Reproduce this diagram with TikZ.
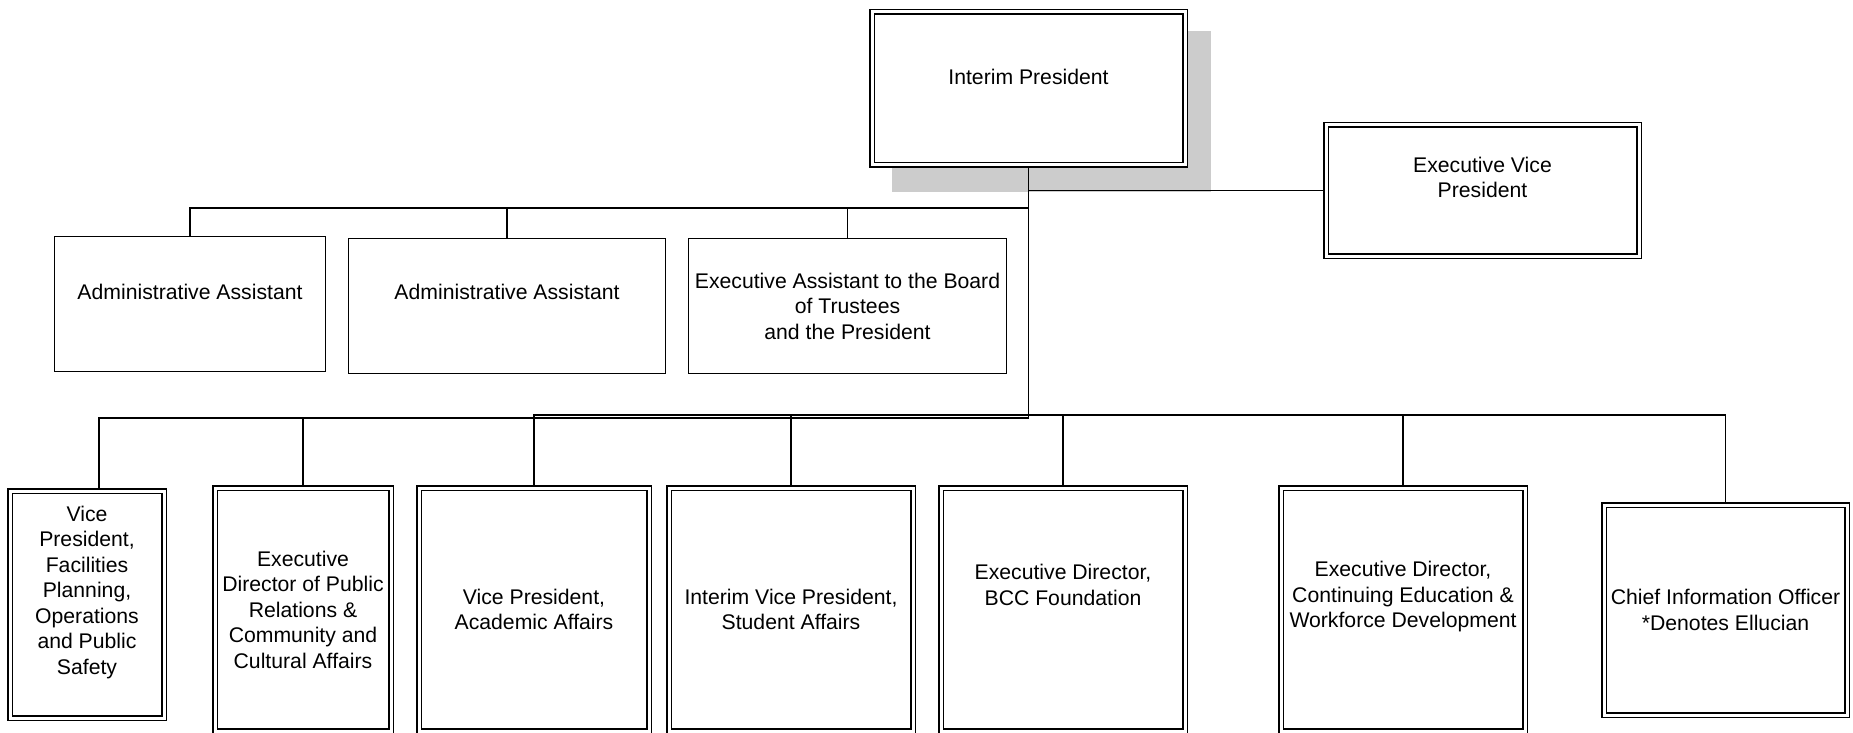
\documentclass[tikz,border=0pt]{standalone}
\usepackage{fontspec}
\setmainfont{Liberation Sans}
\usetikzlibrary{positioning}

\begin{document}
\begin{tikzpicture}[%
        x=0.5pt,
        y=-0.5pt,
        line width=0.65pt,
        office/.style={%
          draw, line width=0.7pt, double, double distance=1.5pt,
          fill=white, inner sep=0pt, outer sep=1.45pt
        },
        aide/.style={%
          draw, line width=0.85pt, fill=white, inner sep=0pt,
          minimum width=158.5pt, minimum height=67.5pt
        },
        dept/.style={%
          office, minimum width=122pt, minimum height=121.5pt
        },
        txt/.style={%
          align=center, inner sep=0pt,
          font=\fontsize{10.6}{12.75}\selectfont
        }
      ]
      \useasboundingbox (0,0) rectangle (1853,733);
      % shadow of the top box
      \fill[black!20] (892,31) rectangle (1211,192);

      \node[office, minimum width=156.5pt, minimum height=76.5pt] (pres) at (1028.5,88.5) {};
      \node[office, minimum width=156.5pt, minimum height=65.5pt] (evp) at (1482.5,190.5) {};
      \node[aide, minimum width=135.5pt] (aa1) at (190,304) {};
      \node[aide] (aa2) at (507,306) {};
      \node[aide, minimum width=159pt] (aa3) at (847.5,306) {};
      \node[office, minimum width=77pt, minimum height=113.5pt] (vpf) at (87,604.5) {};
      \node[dept, minimum width=88pt] (edpr) at (303,609.5) {};
      \node[dept, minimum width=115pt] (vpaa) at (534,609.5) {};
      \node[dept] (vpsa) at (791,609.5) {};
      \node[dept] (edbf) at (1063,609.5) {};
      \node[dept] (edce) at (1403,609.5) {};
      \node[office, minimum width=121.5pt, minimum height=105pt] (cio) at (1725.5,610) {};

      % texts
      \node[txt] (presl) at ([yshift=5.75pt]pres.center) {Interim President};
      \node[txt] (evpl) at ([yshift=6.5pt]evp.center) {Executive Vice\\President};
      \node[txt] (aa1l) at ([yshift=6pt]aa1.center) {Administrative Assistant};
      \node[txt] (aa2l) at ([yshift=7pt]aa2.center) {Administrative Assistant};
      \node[txt] (aa3l) at (aa3.center) {Executive Assistant to the Board\\of Trustees\\and the President};
      \node[txt] (vpfl) at ([yshift=6pt]vpf.center) {Vice\\President,\\Facilities\\Planning,\\Operations\\and Public\\Safety};
      \node[txt] (edprl) at (edpr.center) {Executive\\Director of Public\\Relations \&\\Community and\\Cultural Affairs};
      \node[txt] (vpaal) at (vpaa.center) {Vice President,\\Academic Affairs};
      \node[txt] (vpsal) at (vpsa.center) {Interim Vice President,\\Student Affairs};
      \node[txt] (edbfl) at ([yshift=12.25pt]edbf.center) {Executive Director,\\BCC Foundation};
      \node[txt] (edcel) at ([yshift=6.25pt]edce.center) {Executive Director,\\Continuing Education \&\\Workforce Development};
      \node[txt] (ciol) at (cio.center) {Chief Information Officer\\*Denotes Ellucian};

      % connectors
      \coordinate (upbar) at (1028.5,208);
      \coordinate (lowbar) at (1028.5,415);
      \coordinate (lowbarb) at (1028.5,418);
      \draw (pres.south) -- (lowbarb);
      \draw (pres.south) |- (evp.west);
      \foreach \n in {aa1,aa2,aa3}
        \draw (\n.north) |- (upbar);
      \draw ([xshift=6pt]vpf.north) |- (lowbarb);
      \draw (edpr.north) |- (lowbarb);
      \foreach \n in {vpaa,vpsa,edbf,edce,cio}
        \draw (\n.north) |- (lowbar);
  \end{tikzpicture}
\end{document}
